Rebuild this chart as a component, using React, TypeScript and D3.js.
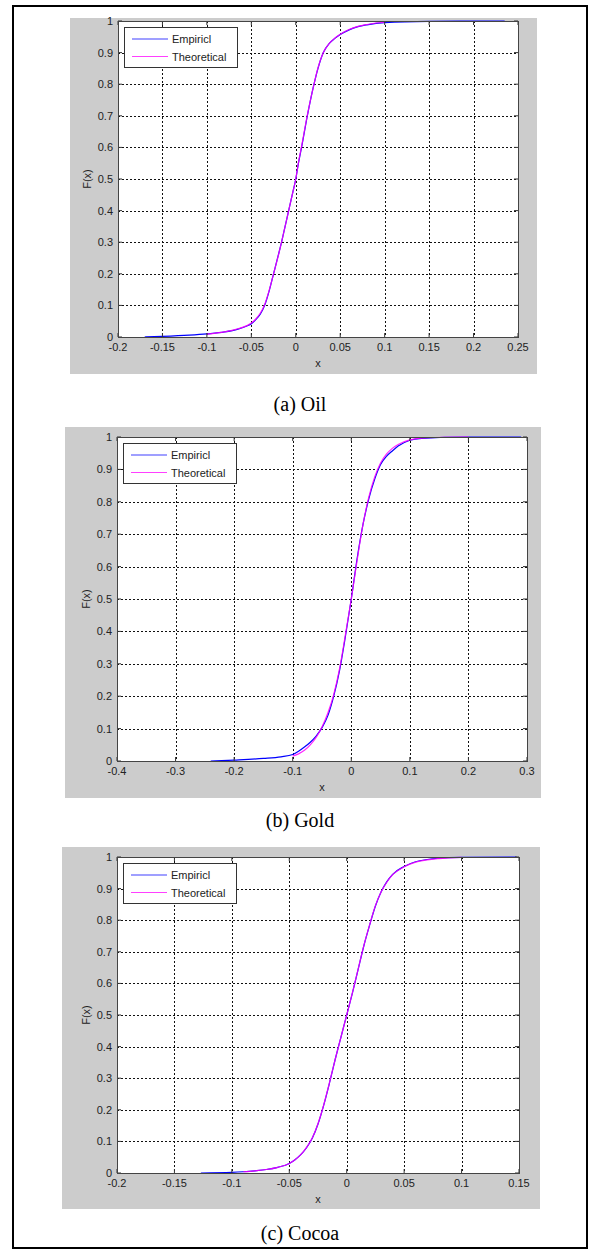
import * as d3 from "d3";

// y ticks shared by all three panels
const yTicks = [0, 0.1, 0.2, 0.3, 0.4, 0.5, 0.6, 0.7, 0.8, 0.9, 1];
const yTickLabels = ["0", "0.1", "0.2", "0.3", "0.4", "0.5", "0.6", "0.7", "0.8", "0.9", "1"];

// (a) Oil
const oilXTicks = [-0.2, -0.15, -0.1, -0.05, 0, 0.05, 0.1, 0.15, 0.2, 0.25];
const oilXTickLabels = ["-0.2", "-0.15", "-0.1", "-0.05", "0", "0.05", "0.1", "0.15", "0.2", "0.25"];
const oilEmpX = [-0.17, -0.15, -0.12, -0.1, -0.08, -0.065, -0.055, -0.05, -0.045, -0.04, -0.035, -0.03, -0.025, -0.02, -0.016, -0.012, -0.008, -0.004, 0, 0.003, 0.0065, 0.013, 0.0205, 0.025, 0.031, 0.038, 0.044, 0.05, 0.06, 0.07, 0.08, 0.1, 0.15, 0.235];
const oilEmpF = [0, 0.002, 0.006, 0.01, 0.016, 0.025, 0.035, 0.042, 0.055, 0.072, 0.1, 0.145, 0.2, 0.255, 0.3, 0.35, 0.4, 0.45, 0.5, 0.55, 0.6, 0.7, 0.8, 0.85, 0.9, 0.93, 0.945, 0.957, 0.972, 0.982, 0.988, 0.995, 0.999, 1];
const oilTheoX = [-0.1, -0.08, -0.065, -0.055, -0.05, -0.045, -0.04, -0.035, -0.03, -0.025, -0.02, -0.016, -0.012, -0.008, -0.004, 0, 0.003, 0.0065, 0.013, 0.0205, 0.025, 0.031, 0.038, 0.044, 0.05, 0.06, 0.07, 0.08, 0.1];
const oilTheoF = [0.009, 0.016, 0.026, 0.036, 0.044, 0.057, 0.075, 0.103, 0.147, 0.2, 0.254, 0.3, 0.35, 0.4, 0.45, 0.5, 0.552, 0.603, 0.702, 0.8, 0.852, 0.9, 0.93, 0.946, 0.958, 0.973, 0.983, 0.989, 0.996];

// (b) Gold
const goldXTicks = [-0.4, -0.3, -0.2, -0.1, 0, 0.1, 0.2, 0.3];
const goldXTickLabels = ["-0.4", "-0.3", "-0.2", "-0.1", "0", "0.1", "0.2", "0.3"];
const goldEmpX = [-0.24, -0.2, -0.15, -0.12, -0.1, -0.09, -0.08, -0.07, -0.06, -0.05, -0.04, -0.03, -0.02, -0.01, 0, 0.01, 0.02, 0.03, 0.04, 0.05, 0.06, 0.07, 0.08, 0.1, 0.12, 0.2, 0.29];
const goldEmpF = [0, 0.003, 0.008, 0.013, 0.02, 0.03, 0.043, 0.058, 0.077, 0.103, 0.14, 0.2, 0.28, 0.385, 0.5, 0.625, 0.73, 0.81, 0.87, 0.915, 0.94, 0.957, 0.972, 0.99, 0.996, 1, 1];
const goldTheoX = [-0.1, -0.09, -0.08, -0.07, -0.06, -0.05, -0.04, -0.03, -0.02, -0.01, 0, 0.01, 0.02, 0.03, 0.04, 0.05, 0.06, 0.07, 0.08, 0.1, 0.13, 0.2];
const goldTheoF = [0.015, 0.022, 0.033, 0.05, 0.073, 0.105, 0.148, 0.205, 0.285, 0.39, 0.5, 0.62, 0.73, 0.815, 0.877, 0.92, 0.947, 0.965, 0.977, 0.991, 0.998, 1];

// (c) Cocoa
const cocoaXTicks = [-0.2, -0.15, -0.1, -0.05, 0, 0.05, 0.1, 0.15];
const cocoaXTickLabels = ["-0.2", "-0.15", "-0.1", "-0.05", "0", "0.05", "0.1", "0.15"];
const cocoaEmpX = [-0.127, -0.1, -0.09, -0.08, -0.07, -0.06, -0.05, -0.045, -0.04, -0.035, -0.03, -0.025, -0.02, -0.015, -0.01, -0.005, 0, 0.005, 0.01, 0.015, 0.02, 0.025, 0.03, 0.035, 0.04, 0.05, 0.06, 0.07, 0.08, 0.1, 0.148];
const cocoaEmpF = [0, 0.002, 0.004, 0.007, 0.011, 0.018, 0.03, 0.042, 0.058, 0.08, 0.11, 0.155, 0.215, 0.285, 0.36, 0.43, 0.5, 0.57, 0.645, 0.72, 0.785, 0.845, 0.89, 0.922, 0.945, 0.97, 0.985, 0.992, 0.996, 0.999, 1];
const cocoaTheoX = [-0.09, -0.08, -0.07, -0.06, -0.05, -0.045, -0.04, -0.035, -0.03, -0.025, -0.02, -0.015, -0.01, -0.005, 0, 0.005, 0.01, 0.015, 0.02, 0.025, 0.03, 0.035, 0.04, 0.05, 0.06, 0.07, 0.08, 0.1];
const cocoaTheoF = [0.004, 0.007, 0.011, 0.018, 0.03, 0.042, 0.058, 0.081, 0.111, 0.156, 0.216, 0.286, 0.36, 0.43, 0.5, 0.571, 0.646, 0.721, 0.786, 0.846, 0.89, 0.921, 0.944, 0.969, 0.984, 0.991, 0.995, 0.999];

const legendLabels = ["Empiricl", "Theoretical"];
const zip = (xs: number[], fs: number[]) => xs.map((x, i) => [x, fs[i]] as [number, number]);

const panels = [
  {
    caption: "(a) Oil", xTicks: oilXTicks, xLabels: oilXTickLabels,
    emp: zip(oilEmpX, oilEmpF), theo: zip(oilTheoX, oilTheoF),
    frame: [70, 18, 537, 374], plot: [118, 21, 518, 337], capY: 411,
  },
  {
    caption: "(b) Gold", xTicks: goldXTicks, xLabels: goldXTickLabels,
    emp: zip(goldEmpX, goldEmpF), theo: zip(goldTheoX, goldTheoF),
    frame: [65, 427, 541, 798], plot: [117, 437, 527, 761], capY: 827,
  },
  {
    caption: "(c) Cocoa", xTicks: cocoaXTicks, xLabels: cocoaXTickLabels,
    emp: zip(cocoaEmpX, cocoaEmpF), theo: zip(cocoaTheoX, cocoaTheoF),
    frame: [62, 847, 540, 1209], plot: [117, 857, 519, 1173], capY: 1240,
  },
];

const sans = "'Liberation Sans', Arial, sans-serif";
const serif = "'Liberation Serif', 'Times New Roman', serif";

function Panel({ p }: { p: (typeof panels)[number] }) {
  const [fx0, fy0, fx1, fy1] = p.frame;
  const [l, t, r, b] = p.plot;
  const x = d3.scaleLinear().domain([p.xTicks[0], p.xTicks[p.xTicks.length - 1]]).range([l, r]);
  const y = d3.scaleLinear().domain([0, 1]).range([b, t]);
  const line = d3.line<[number, number]>().x((d) => x(d[0])).y((d) => y(d[1])).curve(d3.curveMonotoneX);
  const tk = 4;
  const lx = l + 6, ly = t + 6;
  return (
    <g>
      <rect x={fx0} y={fy0} width={fx1 - fx0} height={fy1 - fy0} fill="#cccccc" />
      <rect x={l} y={t} width={r - l} height={b - t} fill="#fff" />
      {/* grid */}
      {p.xTicks.slice(1, -1).map((v, i) => (
        <line key={"gx" + i} x1={Math.round(x(v)) + 0.5} x2={Math.round(x(v)) + 0.5} y1={t} y2={b}
          stroke="#111" strokeDasharray="2,2" />
      ))}
      {yTicks.slice(1, -1).map((v, i) => (
        <line key={"gy" + i} x1={l} x2={r} y1={Math.round(y(v)) + 0.5} y2={Math.round(y(v)) + 0.5}
          stroke="#111" strokeDasharray="2,2" />
      ))}
      {/* curves */}
      <path d={line(p.emp) || ""} fill="none" stroke="#0000ff" strokeWidth={1.2} />
      <path d={line(p.theo) || ""} fill="none" stroke="#ff00ff" strokeWidth={1.2} strokeOpacity={0.85} />
      {/* ticks */}
      {p.xTicks.map((v, i) => (
        <g key={"tx" + i}>
          <line x1={x(v)} x2={x(v)} y1={b} y2={b - tk} stroke="#333" />
          <line x1={x(v)} x2={x(v)} y1={t} y2={t + tk} stroke="#333" />
          <text x={x(v)} y={b + 14} textAnchor="middle" fontSize={11} fontFamily={sans} fill="#222">
            {p.xLabels[i]}
          </text>
        </g>
      ))}
      {yTicks.map((v, i) => (
        <g key={"ty" + i}>
          <line x1={l} x2={l + tk} y1={y(v)} y2={y(v)} stroke="#333" />
          <line x1={r} x2={r - tk} y1={y(v)} y2={y(v)} stroke="#333" />
          <text x={l - 5} y={y(v) + 4} textAnchor="end" fontSize={11} fontFamily={sans} fill="#222">
            {yTickLabels[i]}
          </text>
        </g>
      ))}
      <rect x={l + 0.5} y={t + 0.5} width={r - l} height={b - t} fill="none" stroke="#444" />
      {/* axis labels */}
      <text x={(l + r) / 2} y={b + 30} textAnchor="middle" fontSize={11} fontFamily={sans} fill="#222">x</text>
      <text transform={`translate(${l - 27},${(t + b) / 2}) rotate(-90)`} textAnchor="middle" fontSize={11}
        fontFamily={sans} fill="#222">F(x)</text>
      {/* legend */}
      <rect x={lx + 0.5} y={ly + 0.5} width={113} height={40} fill="#fff" stroke="#333" />
      {legendLabels.map((s, i) => (
        <g key={"lg" + i}>
          <line x1={lx + 8} x2={lx + 44} y1={ly + 12 + i * 17.5} y2={ly + 12 + i * 17.5}
            stroke={i === 0 ? "#0000ff" : "#ff00ff"} strokeOpacity={0.75} strokeWidth={1.2} />
          <text x={lx + 48} y={ly + 16 + i * 17.5} fontSize={11} fontFamily={sans} fill="#222">{s}</text>
        </g>
      ))}
      <text x={300} y={p.capY} textAnchor="middle" fontSize={20} fontFamily={serif} fill="#000">{p.caption}</text>
    </g>
  );
}

export default function App() {
  return (
    <svg width={590} height={1251} style={{ position: "absolute", left: 0, top: 0, background: "#fff" }}>
      <rect x={13} y={6} width={574} height={1242} fill="none" stroke="#000" strokeWidth={2} />
      {panels.map((p, i) => (
        <Panel key={i} p={p} />
      ))}
    </svg>
  );
}
